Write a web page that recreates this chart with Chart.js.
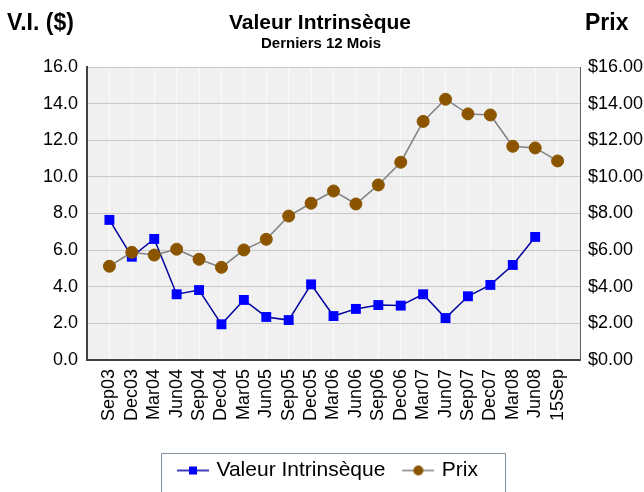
<!DOCTYPE html>
<html>
<head>
<meta charset="utf-8">
<script src="https://cdn.jsdelivr.net/npm/chart.js@4.4.1/dist/chart.umd.min.js"></script>
<style>
  html, body { margin: 0; padding: 0; background: #ffffff; }
  #wrap { width: 644px; height: 492px; position: relative; }
</style>
</head>
<body>
<div id="wrap"><canvas id="chart"></canvas></div>
<script>
const categories = ['Sep03', 'Dec03', 'Mar04', 'Jun04', 'Sep04', 'Dec04', 'Mar05', 'Jun05', 'Sep05', 'Dec05',
  'Mar06', 'Jun06', 'Sep06', 'Dec06', 'Mar07', 'Jun07', 'Sep07', 'Dec07', 'Mar08', 'Jun08', '15Sep'];
const valeurIntrinseque = [7.65, 5.64, 6.61, 3.59, 3.82, 1.95, 3.28, 2.35, 2.18, 4.13,
  2.40, 2.79, 3.00, 2.97, 3.59, 2.29, 3.48, 4.10, 5.19, 6.72, null];
const prix = [5.12, 5.88, 5.73, 6.05, 5.50, 5.06, 6.01, 6.59, 7.86, 8.56,
  9.23, 8.52, 9.56, 10.80, 13.03, 14.24, 13.44, 13.38, 11.67, 11.58, 10.87];
const yTicks = [0, 2, 4, 6, 8, 10, 12, 14, 16];

// the plot leaves one empty slot on each side
const labels = [''].concat(categories, ['']);
const pad = arr => [null].concat(arr, [null]);

const FONT = 'Arial, "Liberation Sans", sans-serif';

function legendIcon(kind) {
  const c = document.createElement('canvas');
  c.width = 32; c.height = 14;
  const g = c.getContext('2d');
  g.strokeStyle = kind === 'rect' ? '#0000a0' : '#808080';
  g.lineWidth = 1.5;
  g.beginPath(); g.moveTo(0, 7); g.lineTo(32, 7); g.stroke();
  if (kind === 'rect') {
    g.fillStyle = '#0000ff';
    g.fillRect(12, 3, 8, 8);
  } else {
    g.fillStyle = '#8b5500';
    g.beginPath(); g.arc(16, 7, 5, 0, Math.PI * 2); g.fill();
  }
  return c;
}
const icons = [legendIcon('rect'), legendIcon('circle')];

const decorPlugin = {
  id: 'decor',
  beforeDraw(chart) {
    const ctx = chart.ctx, a = chart.chartArea;
    ctx.save();
    ctx.fillStyle = '#f0f0f0';
    ctx.fillRect(a.left, a.top, a.right - a.left, a.bottom - a.top);
    ctx.restore();
  },
  afterDraw(chart) {
    const ctx = chart.ctx;
    ctx.save();
    ctx.fillStyle = '#000';
    ctx.textBaseline = 'alphabetic';
    ctx.font = 'bold 23px ' + FONT;
    ctx.textAlign = 'left';
    ctx.fillText('V.I. ($)', 7, 30);
    ctx.fillText('Prix', 585, 30);
    ctx.font = 'bold 21px ' + FONT;
    ctx.textAlign = 'center';
    ctx.fillText('Valeur Intrinsèque', 320, 29);
    ctx.font = 'bold 15px ' + FONT;
    ctx.fillText('Derniers 12 Mois', 321, 48);

    // legend frame
    const hb = chart.legend.legendHitBoxes;
    if (hb && hb.length) {
      const l = Math.round(hb[0].left - 18.5) + 0.5;
      const r = Math.round(hb[hb.length - 1].left + hb[hb.length - 1].width + 27) + 0.5;
      ctx.strokeStyle = '#8090a0';
      ctx.lineWidth = 1;
      ctx.beginPath();
      ctx.moveTo(l, 500); ctx.lineTo(l, 453.5); ctx.lineTo(r, 453.5); ctx.lineTo(r, 500);
      ctx.stroke();
    }
    ctx.restore();
  }
};

new Chart(document.getElementById('chart').getContext('2d'), {
  type: 'line',
  data: {
    labels: labels,
    datasets: [
      {
        label: 'Valeur Intrinsèque',
        data: pad(valeurIntrinseque),
        yAxisID: 'y',
        borderColor: '#0000a0',
        borderWidth: 1.5,
        backgroundColor: '#0000ff',
        pointStyle: 'rect',
        pointRadius: 7,
        pointBorderWidth: 0,
        pointBackgroundColor: '#0000ff',
        tension: 0,
        order: 2
      },
      {
        label: 'Prix',
        data: pad(prix),
        yAxisID: 'y1',
        borderColor: '#808080',
        borderWidth: 1.5,
        backgroundColor: '#8b5500',
        pointStyle: 'circle',
        pointRadius: 6,
        pointBorderWidth: 1,
        pointBorderColor: '#8b5500',
        pointBackgroundColor: '#8b5500',
        tension: 0,
        order: 1
      }
    ]
  },
  options: {
    responsive: true,
    maintainAspectRatio: false,
    animation: false,
    layout: { padding: { top: 67, left: 14, right: 0, bottom: 1 } },
    scales: {
      x: {
        offset: false,
        grid: { color: '#fafafa', lineWidth: 1, drawTicks: false },
        border: { display: true, color: '#404040', width: 2 },
        ticks: {
          autoSkip: false,
          maxRotation: 90,
          minRotation: 90,
          padding: 9,
          color: '#000',
          font: { family: FONT, size: 18 }
        },
        afterFit: scale => { scale.height = 80; }
      },
      y: {
        position: 'left',
        min: 0,
        max: 16,
        afterBuildTicks: scale => { scale.ticks = yTicks.map(v => ({ value: v })); },
        grid: { color: '#c8c8c8', lineWidth: 1, drawTicks: false },
        border: { display: true, color: '#404040', width: 2 },
        ticks: {
          padding: 9,
          color: '#000',
          font: { family: FONT, size: 18 },
          callback: v => v.toFixed(1)
        },
        afterFit: scale => { scale.width = 73; }
      },
      y1: {
        position: 'right',
        min: 0,
        max: 16,
        afterBuildTicks: scale => { scale.ticks = yTicks.map(v => ({ value: v })); },
        grid: { display: false, drawTicks: false },
        border: { display: true, color: '#606060', width: 1 },
        ticks: {
          padding: 8,
          color: '#000',
          font: { family: FONT, size: 18 },
          callback: v => '$' + v.toFixed(2)
        },
        afterFit: scale => { scale.width = 64; }
      }
    },
    plugins: {
      title: { display: false },
      tooltip: { enabled: false },
      legend: {
        display: true,
        position: 'bottom',
        labels: {
          usePointStyle: true,
          pointStyleWidth: 26,
          padding: 20,
          color: '#000',
          font: { family: FONT, size: 21 },
          sort: (a, b) => a.datasetIndex - b.datasetIndex,
          generateLabels: chart => {
            const items = Chart.defaults.plugins.legend.labels.generateLabels(chart);
            items.forEach(it => { it.pointStyle = icons[it.datasetIndex]; });
            return items;
          }
        }
      }
    }
  },
  plugins: [decorPlugin]
});
</script>
</body>
</html>
